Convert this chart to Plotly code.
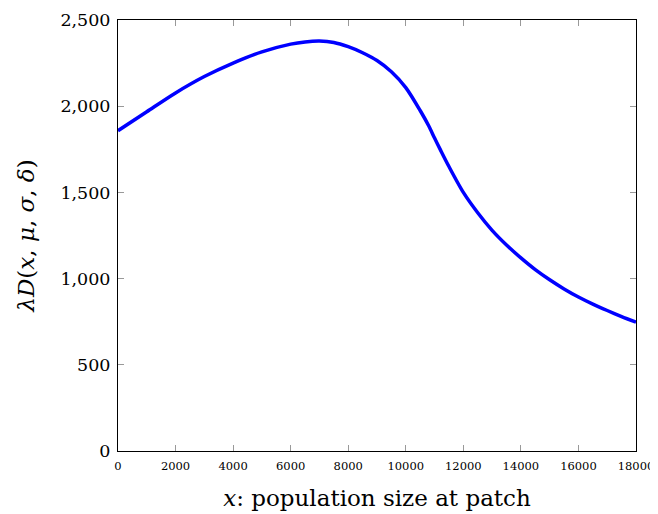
import plotly.graph_objects as go

# Data
x_vals = [0, 1000, 2000, 3000, 4000, 5000, 6000, 6500, 7000, 7500, 8000, 8500,
          9000, 9500, 10000, 10500, 10800, 11000, 11200, 11500, 12000, 12500, 13000,
          13500, 14000, 14500, 15000, 15500, 16000, 16500, 17000, 17500, 18000]
y_vals = [1858, 1968, 2077, 2172, 2250, 2315, 2360, 2373, 2378, 2370, 2345, 2310,
          2265, 2200, 2108, 1975, 1885, 1815, 1748, 1650, 1500, 1382, 1280,
          1195, 1120, 1052, 993, 940, 893, 852, 815, 780, 747]

x_ticks = list(range(0, 18001, 2000))
y_ticks = [0, 500, 1000, 1500, 2000, 2500]

font_family = "DejaVu Serif, serif"

fig = go.Figure()
fig.add_trace(go.Scatter(
    x=x_vals, y=y_vals, mode="lines",
    line=dict(color="rgb(0,0,255)", width=3.5, shape="spline", smoothing=0.8),
    showlegend=False, hoverinfo="skip",
))

# the page body adds an 8px offset, so the figure is 8px smaller on each axis
fig.update_layout(
    width=650, height=506,
    margin=dict(l=110, r=22, t=12, b=63, autoexpand=False),
    paper_bgcolor="white", plot_bgcolor="white",
    font=dict(family=font_family, color="black"),
)
fig.update_xaxes(
    range=[0, 18000], tickvals=x_ticks, ticktext=[str(v) for v in x_ticks],
    showgrid=False, zeroline=False, automargin=False, ticklabeloverflow="allow",
    showline=True, linecolor="black", linewidth=1, mirror="ticks",
    ticks="inside", ticklen=6, tickcolor="#999999", tickwidth=1,
    tickfont=dict(size=11.5, family=font_family), ticklabelstandoff=4,
    title=dict(text="<i>x</i>: population size at patch", font=dict(size=23, family=font_family), standoff=18),
)
fig.update_yaxes(
    range=[0, 2500], tickvals=y_ticks, ticktext=[f"{v:,}" for v in y_ticks],
    showgrid=False, zeroline=False, automargin=False, ticklabeloverflow="allow",
    showline=True, linecolor="black", linewidth=1, mirror="ticks",
    ticks="inside", ticklen=6, tickcolor="#999999", tickwidth=1,
    tickfont=dict(size=17.5, family=font_family), ticklabelstandoff=3,
    title=dict(text="<i>λD</i>(<i>x</i>, <i>μ</i>, <i>σ</i>, <i>δ</i>)", font=dict(size=23, family=font_family), standoff=19),
)

fig.write_html("out.html")
